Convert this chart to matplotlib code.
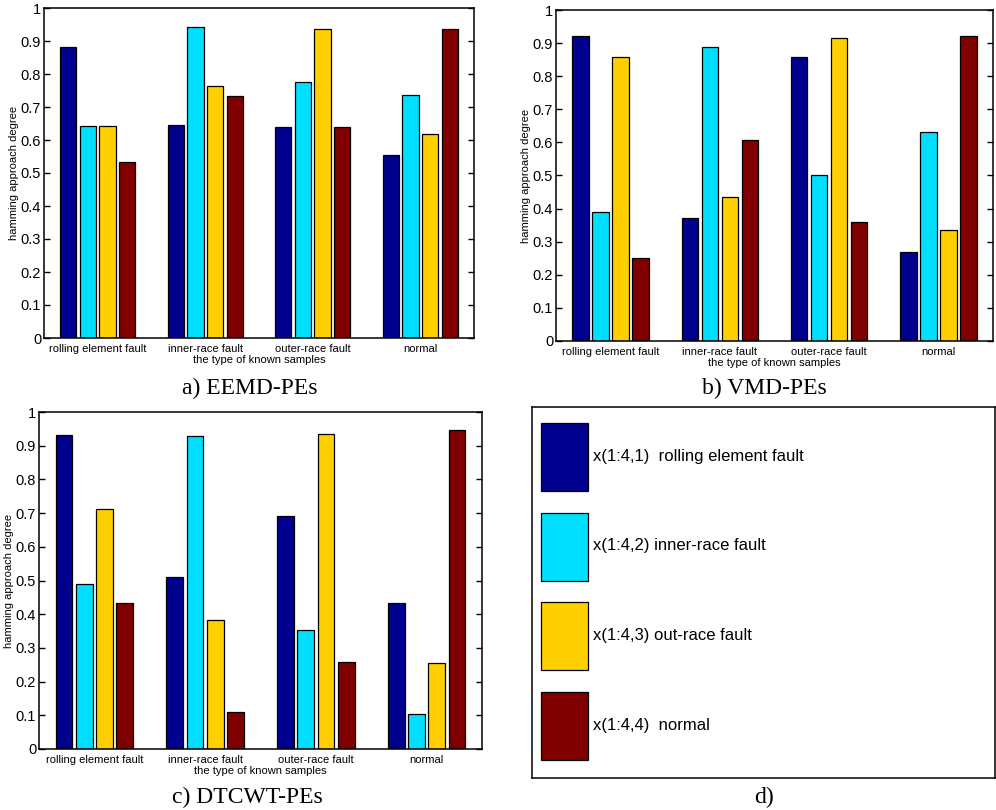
import numpy as np
import matplotlib.pyplot as plt
from matplotlib.patches import Patch

plt.rcParams['font.family'] = ['Liberation Sans', 'DejaVu Sans']

groups = ['rolling element fault', 'inner-race fault', 'outer-race fault', 'normal']
series_labels = ['x(1:4,1)  rolling element fault', 'x(1:4,2) inner-race fault',
                 'x(1:4,3) out-race fault', 'x(1:4,4)  normal']
colors = ['#00008F', '#00DFFF', '#FFCF00', '#800000']
yticks = [0, 0.1, 0.2, 0.3, 0.4, 0.5, 0.6, 0.7, 0.8, 0.9, 1]

# rows: sample type, columns: x(1:4,k)
eemd = [[0.883, 0.642, 0.641, 0.533],
        [0.644, 0.941, 0.763, 0.732],
        [0.638, 0.776, 0.935, 0.639],
        [0.556, 0.735, 0.619, 0.935]]
vmd = [[0.920, 0.391, 0.857, 0.251],
       [0.372, 0.888, 0.434, 0.607],
       [0.858, 0.500, 0.916, 0.361],
       [0.268, 0.631, 0.336, 0.920]]
dtcwt = [[0.933, 0.489, 0.711, 0.434],
         [0.510, 0.930, 0.383, 0.111],
         [0.690, 0.352, 0.936, 0.257],
         [0.434, 0.105, 0.256, 0.946]]

W, H = 996, 810


def px_axes(fig, x0, y0, x1, y1):
    return fig.add_axes([x0 / W, 1 - y1 / H, (x1 - x0) / W, (y1 - y0) / H])


def bar_panel(ax, data, xlabel=True):
    data = np.array(data)
    x = np.arange(1, 5)
    step = 0.183
    for k in range(4):
        ax.bar(x + (k - 1.5) * step, data[:, k], width=0.152, color=colors[k],
               edgecolor='black', linewidth=0.9)
    ax.set_xlim(0.5, 4.5)
    ax.set_ylim(0, 1)
    ax.set_yticks(yticks)
    ax.set_yticklabels([f'{v:g}' for v in yticks], fontsize=10.5)
    ax.set_xticks(x)
    ax.set_xticklabels(groups, fontsize=8)
    ax.tick_params(axis='x', length=0, pad=4)
    ax.tick_params(axis='y', direction='in', right=True, length=4, width=1, pad=2)
    for s in ax.spines.values():
        s.set_linewidth(1.1)
    ax.set_ylabel('hamming approach degree', fontsize=8, labelpad=1)
    if xlabel:
        ax.set_xlabel('the type of known samples', fontsize=8, labelpad=1)


fig = plt.figure(figsize=(W / 100, H / 100), dpi=100)

ax_a = px_axes(fig, 44, 8, 474, 338)
bar_panel(ax_a, eemd)
ax_b = px_axes(fig, 556, 10, 993, 341)
bar_panel(ax_b, vmd)
ax_c = px_axes(fig, 39, 412, 482, 749)
bar_panel(ax_c, dtcwt)

# legend panel
ax_d = px_axes(fig, 532, 407, 995, 778)
ax_d.set_xticks([])
ax_d.set_yticks([])
for s in ax_d.spines.values():
    s.set_linewidth(1.1)
handles = [Patch(facecolor=c, edgecolor='black', linewidth=0.9) for c in colors]
ax_d.legend(handles, series_labels, loc='upper left', bbox_to_anchor=(9 / 463, 1 - 16 / 371),
            frameon=False, fontsize=12, handlelength=2.82, handleheight=5.9,
            labelspacing=1.3, handletextpad=0.28, borderpad=0, borderaxespad=0)

cap = dict(family=['Liberation Serif', 'DejaVu Serif'], fontsize=17, ha='center', va='center')
fig.text(250 / W, 1 - 388 / H, 'a) EEMD-PEs', **cap)
fig.text(764 / W, 1 - 388 / H, 'b) VMD-PEs', **cap)
fig.text(247 / W, 1 - 797 / H, 'c) DTCWT-PEs', **cap)
fig.text(764 / W, 1 - 797 / H, 'd)', **cap)

fig.savefig('out.png', dpi=100)
